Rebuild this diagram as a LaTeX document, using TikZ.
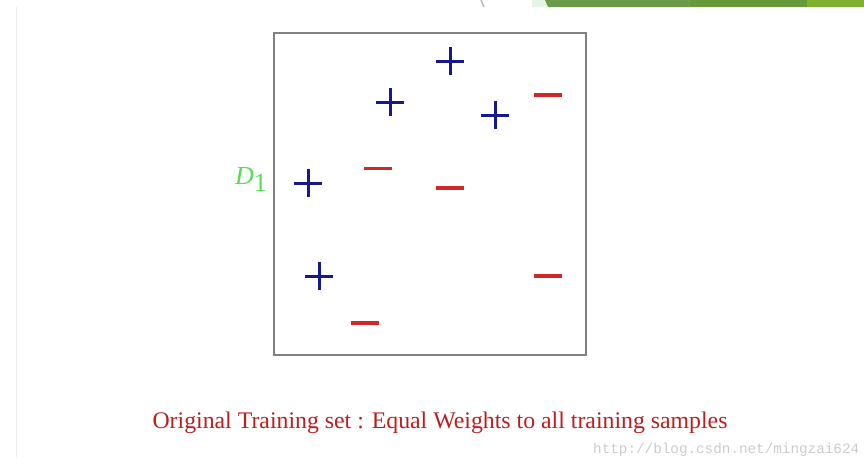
\documentclass[tikz,border=0pt]{standalone}
\usepackage{fontspec}
\setmainfont{Liberation Serif}
\newfontfamily\markfont{Liberation Mono}
\definecolor{posblue}{HTML}{18188E}
\definecolor{negred}{HTML}{D02828}
\definecolor{capred}{HTML}{B82020}
\definecolor{dgreen}{HTML}{55DD55}
\definecolor{barA}{HTML}{6A9A4A}
\definecolor{barB}{HTML}{66993A}
\definecolor{barC}{HTML}{80B030}
\begin{document}
\begin{tikzpicture}[x=1pt,y=-1pt,
    plus/.style={minimum size=28pt,inner sep=0pt,
      path picture={
        \fill[posblue] ([xshift=-1.5pt]path picture bounding box.north) rectangle ([xshift=1.5pt]path picture bounding box.south);
        \fill[posblue] ([yshift=-1.5pt]path picture bounding box.west) rectangle ([yshift=1.5pt]path picture bounding box.east);}},
    minus/.style={minimum width=28pt,minimum height=3.2pt,inner sep=0pt,fill=negred}]
  \clip (0,0) rectangle (864,458);
  \fill[white] (0,0) rectangle (864,458);
  % slide remnants
  \fill[green!60!black!10] (532,0) rectangle (547,7);
  \fill[barA] (545,0) -- (690,0) -- (690,7) -- (548,7) -- cycle;
  \fill[barB] (690,0) rectangle (807,7);
  \fill[barC] (807,0) rectangle (864,7);
  \draw[gray!60,line width=1.2pt] (481,0) -- (484,7);
  \draw[gray!15,line width=1.5pt] (16.5,7) -- (16.5,458);
  % frame
  \node (box) [draw=gray,line width=1.6pt,minimum width=312,minimum height=322,inner sep=0pt] at (430,194) {};
  \node (d1) [anchor=east,text=dgreen,font=\fontsize{26}{26}\selectfont,inner sep=0pt] at (267,179) {\textit{D}\raisebox{-7pt}{1}};
  % samples
  \node (p1) [plus] at (450,61) {};
  \node (p2) [plus] at (390,102) {};
  \node (p3) [plus] at (495,115) {};
  \node (p4) [plus] at (308,183) {};
  \node (p5) [plus] at (319,276) {};
  \node (m1) [minus] at (548,95) {};
  \node (m2) [minus] at (378,168.5) {};
  \node (m3) [minus] at (450,188) {};
  \node (m4) [minus] at (548,276) {};
  \node (m5) [minus] at (365,323) {};
  % caption
  \node (cap) [text=capred,font=\fontsize{23.8}{24}\selectfont,anchor=base] at (440,428) {Original Training set : Equal Weights to all training samples};
  \node (wm) [text=gray!40,font=\markfont\fontsize{14.3}{15}\selectfont,anchor=base west,inner sep=0pt] at (593,453) {http://blog.csdn.net/mingzai624};
\end{tikzpicture}
\end{document}
